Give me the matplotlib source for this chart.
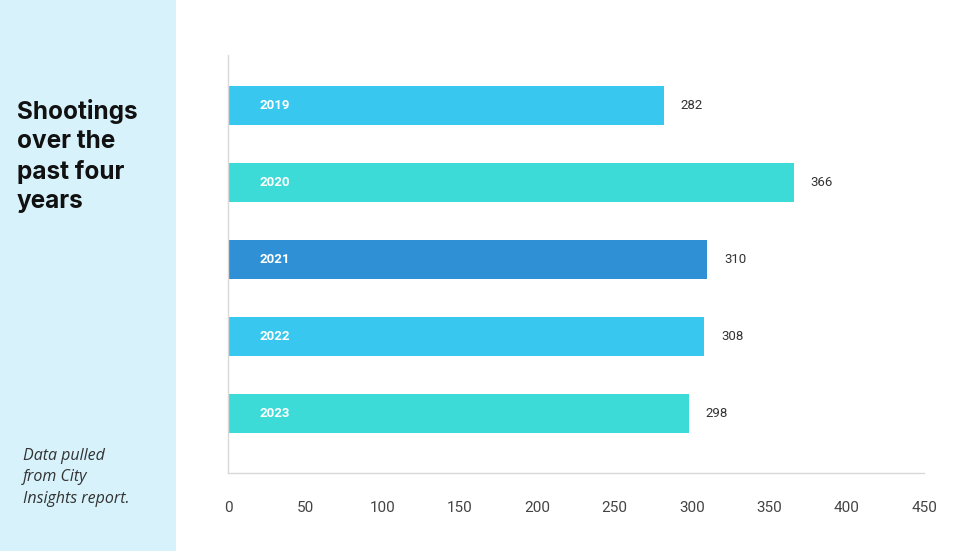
import matplotlib
matplotlib.use("Agg")
import matplotlib.pyplot as plt
from matplotlib.patches import Rectangle

years = ["2019", "2020", "2021", "2022", "2023"]
shootings = [282, 366, 310, 308, 298]
bar_colors = ["#38c8ef", "#3ddbd8", "#2f90d6", "#38c8ef", "#3ddbd8"]
xticks = [0, 50, 100, 150, 200, 250, 300, 350, 400, 450]

title = "Shootings\nover the\npast four\nyears"
note = "Data pulled\nfrom City\nInsights report."

fig = plt.figure(figsize=(9.8, 5.51), dpi=100)
fig.patch.set_facecolor("white")

# left panel
fig.add_artist(Rectangle((0, 0), 176 / 980, 1, transform=fig.transFigure,
                         facecolor="#d7f2fb", edgecolor="none", zorder=0))
fig.text(17 / 980, 1 - 99 / 551, title, fontsize=17.5, fontweight="bold",
         family=["Inter", "DejaVu Sans"], color="#111111", va="top", ha="left",
         linespacing=1.34)
fig.text(23 / 980, 1 - 448 / 551, note, fontsize=11.5, style="italic",
         family=["Open Sans", "DejaVu Sans"], color="#333333", va="top", ha="left",
         linespacing=1.45)

ax = fig.add_axes([228 / 980, 78 / 551, 696 / 980, 418 / 551])
ypos = list(range(len(years)))
bars = ax.barh(ypos, shootings, height=0.51, color=bar_colors, zorder=2)

ax.set_xlim(0, 450)
ax.set_ylim(4.77, -0.66)
ax.set_yticks([])
ax.set_xticks(xticks)
ax.set_xticklabels([str(t) for t in xticks],
                   family=["Liberation Sans Narrow", "Roboto", "DejaVu Sans"],
                   fontsize=11, color="#444444")
ax.tick_params(axis="x", length=0, pad=20)
for s in ["top", "right"]:
    ax.spines[s].set_visible(False)
for s in ["left", "bottom"]:
    ax.spines[s].set_color("#d9d9d9")
    ax.spines[s].set_linewidth(1.0)

for y, v, yr in zip(ypos, shootings, years):
    ax.annotate(yr, xy=(0, y), xytext=(23, 0), textcoords="offset points",
                ha="left", va="center", color="white", fontsize=9.5,
                fontweight="bold", family=["Roboto", "DejaVu Sans"])
    ax.annotate(str(v), xy=(v, y), xytext=(12, 0), textcoords="offset points",
                ha="left", va="center", color="#333333", fontsize=9.5,
                family=["Roboto", "DejaVu Sans"])

fig.savefig("out.png", dpi=100)
